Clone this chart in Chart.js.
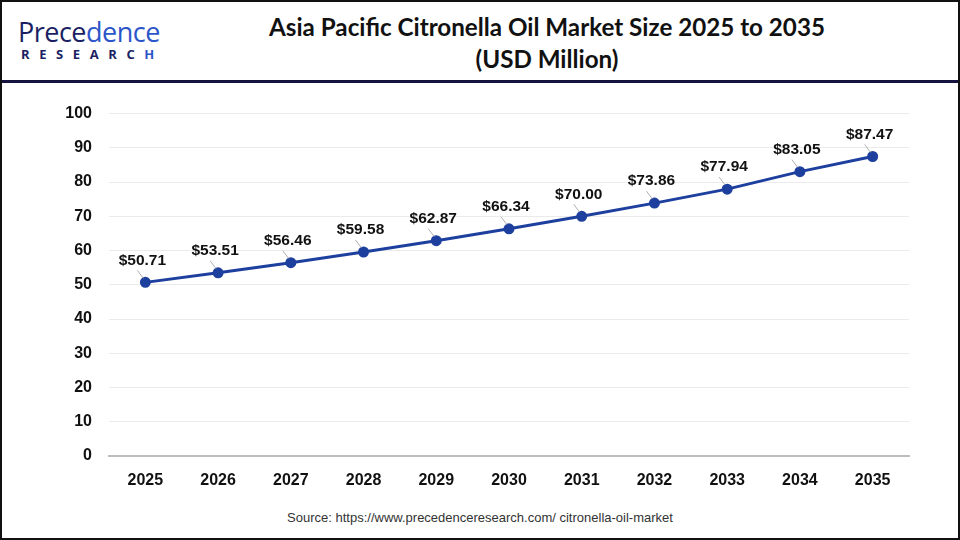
<!DOCTYPE html>
<html><head><meta charset="utf-8">
<script src="https://cdn.jsdelivr.net/npm/chart.js@4.4.1/dist/chart.umd.min.js"></script>
<style>
html,body{margin:0;padding:0;background:#fff;}
#frame{position:absolute;left:0;top:0;width:960px;height:540px;box-sizing:border-box;border:2px solid #111;overflow:hidden;font-family:"Liberation Sans",Arial,sans-serif;}
#header{position:absolute;left:0;top:0;width:956px;height:78px;border-bottom:3px solid #14143f;}
#title{position:absolute;left:230px;width:630px;top:9px;text-align:center;font-family:Lato,"Open Sans",sans-serif;font-weight:700;font-size:24.2px;line-height:32px;color:#111;}
#logo1{position:absolute;left:16px;top:15px;font-family:"Open Sans",sans-serif;font-size:27px;line-height:30px;color:#1b1f63;letter-spacing:-0.5px;}
#logo1 span{color:#2c55c9;}
#logo2{position:absolute;left:19px;top:44px;font-family:"Open Sans",sans-serif;font-weight:700;font-size:13px;line-height:16px;letter-spacing:9.6px;color:#1b1f63;}
#source{position:absolute;left:0;width:956px;top:508px;text-align:center;font-size:13px;color:#333;}
#wrap{position:absolute;left:-2px;top:85px;width:960px;height:420px;}
</style></head>
<body>
<div id="frame">
  <div id="header">
    <div id="logo1">Prece<span>dence</span></div>
    <div id="logo2">RESEARC<span style="color:#2c55c9">H</span></div>
    <div id="title">Asia Pacific Citronella Oil Market Size 2025 to 2035<br>(USD Million)</div>
  </div>
  <div id="wrap"><canvas id="c"></canvas></div>
  <div id="source">Source: https://www.precedenceresearch.com/ citronella-oil-market</div>
</div>
<script>
const years = ["2025","2026","2027","2028","2029","2030","2031","2032","2033","2034","2035"];
const marketSize = [50.71,53.51,56.46,59.58,62.87,66.34,70.00,73.86,77.94,83.05,87.47];
const yTicks = [0,10,20,30,40,50,60,70,80,90,100];

const labelPlugin = {
  id:'valueLabels',
  afterDatasetsDraw(chart){
    const ctx = chart.ctx;
    const meta = chart.getDatasetMeta(0);
    ctx.save();
    meta.data.forEach((pt,i)=>{
      const x = pt.x, y = pt.y;
      ctx.strokeStyle = '#9a9a9a';
      ctx.lineWidth = 0.8;
      ctx.beginPath();
      ctx.moveTo(x-2, y-4);
      ctx.lineTo(x-8, y-12);
      ctx.stroke();
      ctx.fillStyle = '#111';
      ctx.font = 'bold 15.5px "Liberation Sans", Arial, sans-serif';
      ctx.textAlign = 'center';
      ctx.textBaseline = 'middle';
      ctx.fillText('$' + marketSize[i].toFixed(2), x - 3, y - 22);
    });
    ctx.restore();
  }
};

new Chart(document.getElementById('c'), {
  type:'line',
  data:{labels:years, datasets:[{
    data:marketSize,
    borderColor:'#1d3f9e',
    backgroundColor:'#1d3f9e',
    borderWidth:3,
    pointRadius:4,
    pointHoverRadius:4,
    tension:0
  }]},
  options:{
    responsive:true, maintainAspectRatio:false, animation:false,
    layout:{padding:{top:19,right:51,left:0,bottom:0}},
    plugins:{legend:{display:false},tooltip:{enabled:false}},
    scales:{
      x:{
        offset:true,
        grid:{display:false,drawTicks:false,offset:true},
        border:{display:true,color:'#bdbdbd',width:2},
        ticks:{padding:15,color:'#111',font:{family:'"Liberation Sans", Arial, sans-serif',size:16,weight:'bold'}},
        afterFit(s){s.height=51;}
      },
      y:{
        min:0,max:100,
        afterBuildTicks(s){s.ticks = yTicks.map(v=>({value:v}));},
        grid:{color:'#ebebeb',lineWidth:1,drawTicks:false},
        border:{display:false},
        ticks:{padding:17,color:'#111',font:{family:'"Liberation Sans", Arial, sans-serif',size:16,weight:'bold'}},
        afterFit(s){s.width=109;}
      }
    }
  },
  plugins:[labelPlugin]
});
</script>
</body></html>
